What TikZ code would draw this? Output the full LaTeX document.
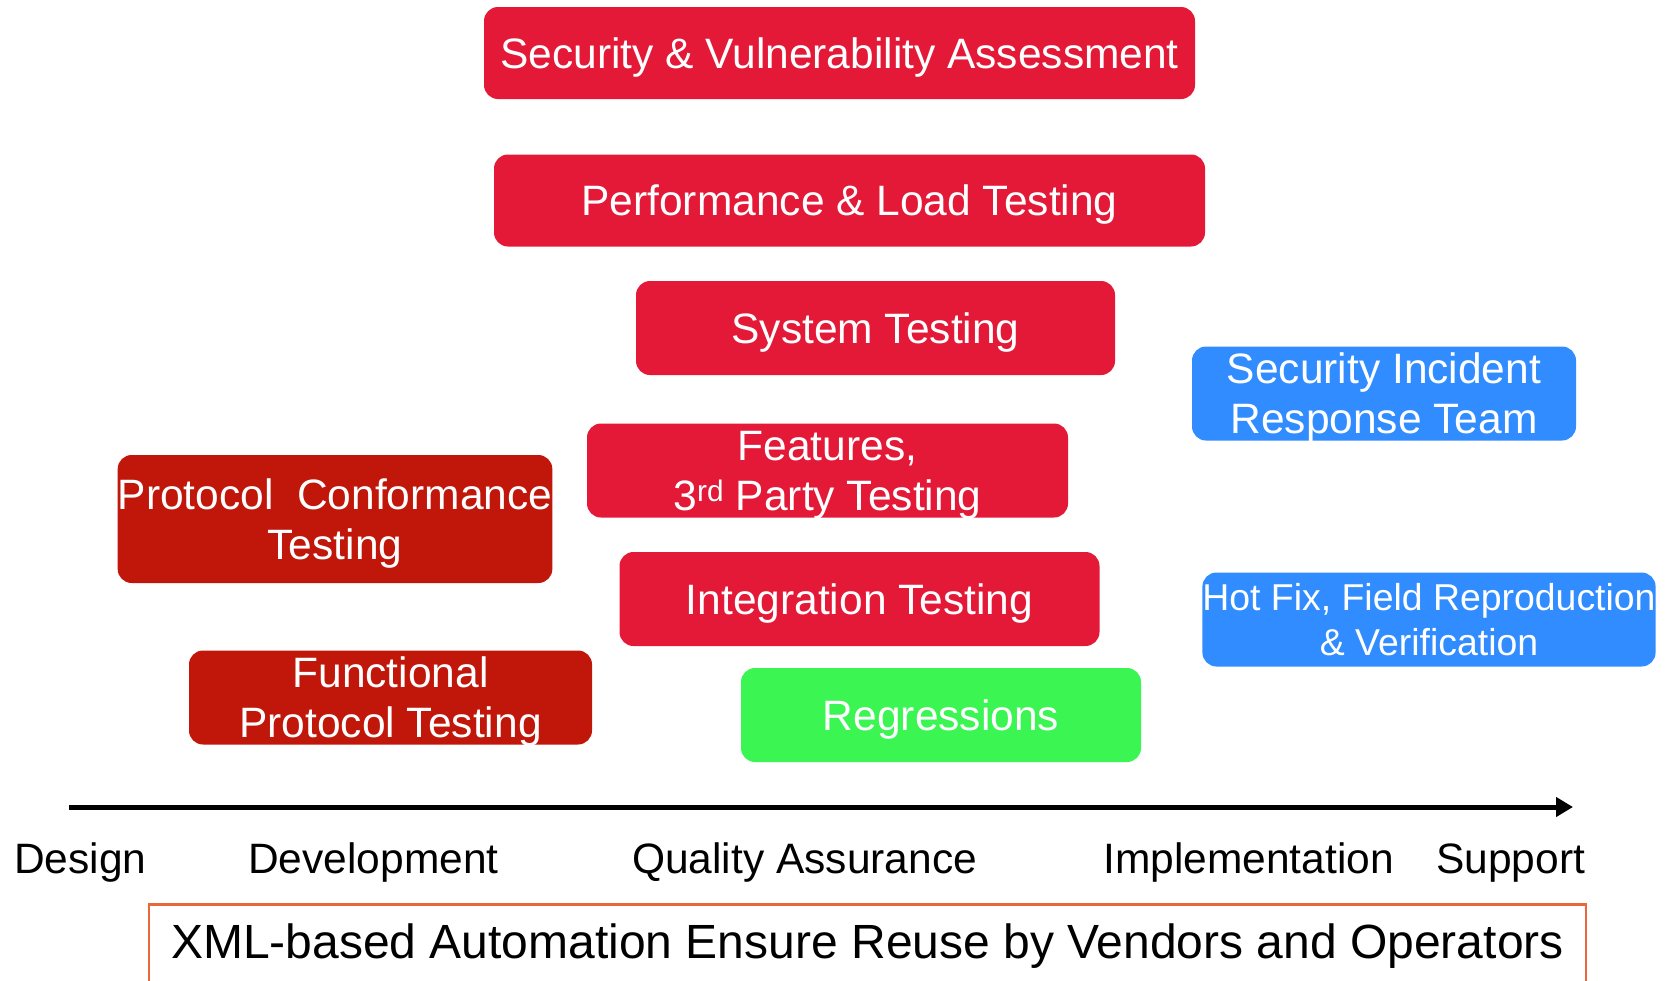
\documentclass[tikz,border=0pt]{standalone}
\usepackage{fontspec}
\setmainfont{Liberation Sans}
\usetikzlibrary{arrows.meta}
\definecolor{crimson}{HTML}{E31937}
\definecolor{darkred}{HTML}{C1160A}
\definecolor{skyblue}{HTML}{318DFF}
\definecolor{brightgreen}{HTML}{3AF552}
\definecolor{frameorange}{HTML}{E9673A}
\tikzset{
  testbox/.style = {align=center, inner sep=0pt, text centered, rounded corners=14pt,
    text=white, font=\fontsize{42.5}{50}\selectfont, minimum height=94pt,
    text depth=-3pt},
  tst_r/.style = {testbox, fill=crimson},
  tst_d/.style = {testbox, fill=darkred},
  tst_b/.style = {testbox, fill=skyblue},
  tst_g/.style = {testbox, fill=brightgreen},
  phase/.style = {anchor=base west, inner sep=0pt,
    font=\fontsize{42.5}{50}\selectfont}
}

\begin{document}
\begin{tikzpicture}[x=1pt,y=-1pt]
\useasboundingbox (0,0) rectangle (1672,980);
% test activities
\node [tst_r, minimum width=711pt, minimum height=92pt] (secvuln) at (839.5,53)
    {Security \& Vulnerability Assessment};
\node [tst_r, minimum width=711pt, minimum height=92pt] (perf) at (849.5,200.5)
    {Performance \& Load Testing};
\node [tst_r, minimum width=479pt] (system) at (875.5,328) {System Testing};
\node [tst_r, minimum width=481pt] (features) at (827.5,470.5)
    {Features,\\ 3\textsuperscript{rd} Party Testing};
\node [tst_r, minimum width=480pt] (integr) at (859.5,599) {Integration Testing};
\node [tst_g, minimum width=400pt] (regress) at (941,715) {Regressions};
\node [tst_d, minimum width=434pt, minimum height=128pt] (conform) at (335,519)
    {Protocol\ \ Conformance\\ Testing};
\node [tst_d, minimum width=403pt] (functional) at (390.5,697.5)
    {Functional\\ Protocol Testing};
\node [tst_b, minimum width=384pt] (sirt) at (1384,393.5)
    {Security Incident\\ Response Team};
\node [tst_b, minimum width=452pt, font=\fontsize{37.4}{45}\selectfont] (hotfix) at (1429,619.5)
    {Hot Fix, Field Reproduction\\ \& Verification};

% timeline
\coordinate (tl_start) at (69,807);
\coordinate (tl_end) at (1573,807);
\draw [line width=5pt, -{Triangle[length=17pt,width=19pt]}] (tl_start) -- (tl_end);
\node [phase] (design) at (14,873) {Design};
\node [phase] (develop) at (248,873) {Development};
\node [phase] (qa) at (632,873) {Quality Assurance};
\node [phase] (impl) at (1103,873) {Implementation};
\node [phase] (support) at (1436,873) {Support};

% reuse frame
\node [draw=frameorange, line width=2.5pt, anchor=north, inner sep=0pt,
    minimum width=1437pt, minimum height=84pt,
    font=\fontsize{48}{56}\selectfont] (reuse) at (867.5,903)
    {XML-based Automation Ensure Reuse by Vendors and Operators};
\end{tikzpicture}
\end{document}
